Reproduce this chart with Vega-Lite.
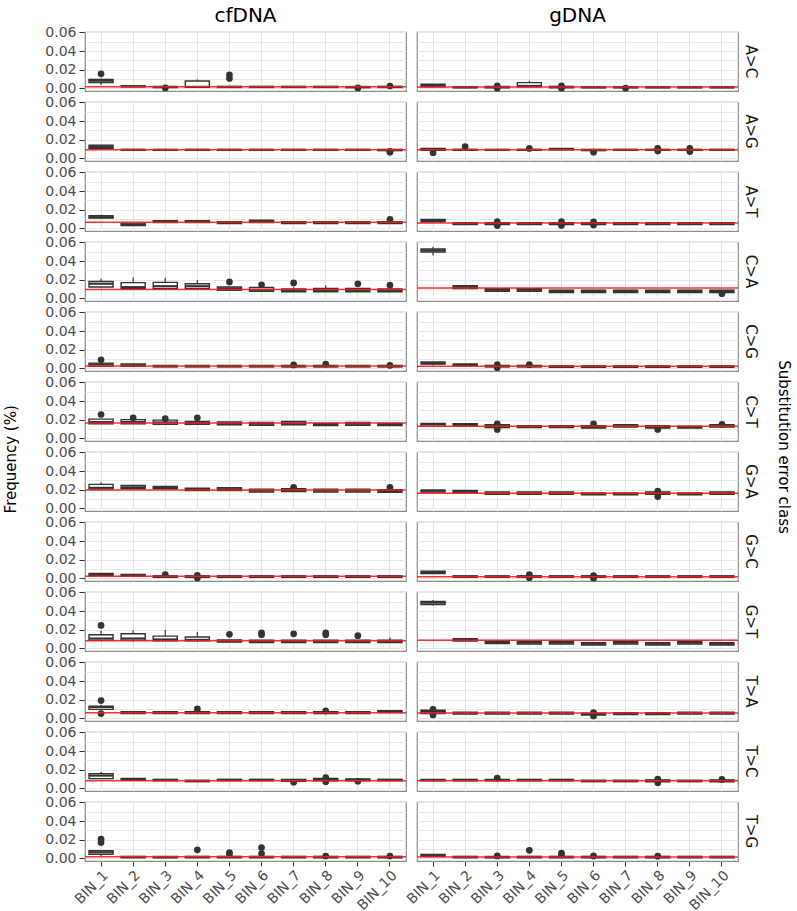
{
"$schema": "https://vega.github.io/schema/vega-lite/v6.json",
"padding": {"left": 3, "top": 6, "right": 2, "bottom": 0},
"bounds": "flush",
"title": {"text": "Frequency (%)", "orient": "left", "anchor": "middle", "fontSize": 15, "fontWeight": "normal", "color": "#000000", "offset": 26, "font": "DejaVu Sans"},
"config": {
  "font": "DejaVu Sans",
  "view": {"stroke": "#8c8c8c", "strokeWidth": 1.2},
  "axis": {"domain": false, "tickColor": "#333333", "labelColor": "#4d4d4d", "titleColor": "#000000", "titleFontWeight": "normal"}
},
"data": {"values": [
{"t":"cfDNA","c":"A>C","b":"BIN_1","q1":0.006,"md":0.008,"q3":0.0095,"lo":0.0035,"hi":0.0105},
{"t":"cfDNA","c":"A>C","b":"BIN_2","q1":0.0015,"md":0.002,"q3":0.0025},
{"t":"cfDNA","c":"A>C","b":"BIN_3","q1":0.0007,"md":0.0012,"q3":0.0018},
{"t":"cfDNA","c":"A>C","b":"BIN_4","q1":0.001,"md":0.0015,"q3":0.0078,"lo":0.001,"hi":0.0095},
{"t":"cfDNA","c":"A>C","b":"BIN_5","q1":0.0008,"md":0.0013,"q3":0.002},
{"t":"cfDNA","c":"A>C","b":"BIN_6","q1":0.0008,"md":0.0013,"q3":0.002},
{"t":"cfDNA","c":"A>C","b":"BIN_7","q1":0.0008,"md":0.0013,"q3":0.002},
{"t":"cfDNA","c":"A>C","b":"BIN_8","q1":0.0008,"md":0.0013,"q3":0.002},
{"t":"cfDNA","c":"A>C","b":"BIN_9","q1":0.0006,"md":0.0012,"q3":0.0018},
{"t":"cfDNA","c":"A>C","b":"BIN_10","q1":0.0008,"md":0.0013,"q3":0.002},
{"t":"cfDNA","c":"A>C","b":"BIN_1","o":0.0155},
{"t":"cfDNA","c":"A>C","b":"BIN_3","o":0.0003},
{"t":"cfDNA","c":"A>C","b":"BIN_5","o":0.0105},
{"t":"cfDNA","c":"A>C","b":"BIN_5","o":0.0145},
{"t":"cfDNA","c":"A>C","b":"BIN_9","o":0.0003},
{"t":"cfDNA","c":"A>C","b":"BIN_10","o":0.0024},
{"t":"cfDNA","c":"A>G","b":"BIN_1","q1":0.0105,"md":0.012,"q3":0.014},
{"t":"cfDNA","c":"A>G","b":"BIN_2","q1":0.0085,"md":0.009,"q3":0.0095},
{"t":"cfDNA","c":"A>G","b":"BIN_3","q1":0.0085,"md":0.009,"q3":0.0095},
{"t":"cfDNA","c":"A>G","b":"BIN_4","q1":0.0085,"md":0.009,"q3":0.0095},
{"t":"cfDNA","c":"A>G","b":"BIN_5","q1":0.0085,"md":0.009,"q3":0.0095},
{"t":"cfDNA","c":"A>G","b":"BIN_6","q1":0.0085,"md":0.009,"q3":0.0095},
{"t":"cfDNA","c":"A>G","b":"BIN_7","q1":0.0085,"md":0.009,"q3":0.0095},
{"t":"cfDNA","c":"A>G","b":"BIN_8","q1":0.0085,"md":0.009,"q3":0.0095},
{"t":"cfDNA","c":"A>G","b":"BIN_9","q1":0.0085,"md":0.009,"q3":0.0095},
{"t":"cfDNA","c":"A>G","b":"BIN_10","q1":0.0082,"md":0.0088,"q3":0.0095},
{"t":"cfDNA","c":"A>G","b":"BIN_10","o":0.0065},
{"t":"cfDNA","c":"A>G","b":"BIN_10","o":0.0075},
{"t":"cfDNA","c":"A>T","b":"BIN_1","q1":0.011,"md":0.012,"q3":0.0135,"lo":0.0105,"hi":0.0145},
{"t":"cfDNA","c":"A>T","b":"BIN_2","q1":0.003,"md":0.004,"q3":0.0055},
{"t":"cfDNA","c":"A>T","b":"BIN_3","q1":0.006,"md":0.007,"q3":0.008},
{"t":"cfDNA","c":"A>T","b":"BIN_4","q1":0.006,"md":0.007,"q3":0.008},
{"t":"cfDNA","c":"A>T","b":"BIN_5","q1":0.005,"md":0.006,"q3":0.007},
{"t":"cfDNA","c":"A>T","b":"BIN_6","q1":0.006,"md":0.007,"q3":0.0085},
{"t":"cfDNA","c":"A>T","b":"BIN_7","q1":0.005,"md":0.006,"q3":0.007},
{"t":"cfDNA","c":"A>T","b":"BIN_8","q1":0.005,"md":0.006,"q3":0.007},
{"t":"cfDNA","c":"A>T","b":"BIN_9","q1":0.005,"md":0.006,"q3":0.007},
{"t":"cfDNA","c":"A>T","b":"BIN_10","q1":0.005,"md":0.006,"q3":0.007},
{"t":"cfDNA","c":"A>T","b":"BIN_10","o":0.0095},
{"t":"cfDNA","c":"C>A","b":"BIN_1","q1":0.012,"md":0.0155,"q3":0.018,"lo":0.011,"hi":0.021},
{"t":"cfDNA","c":"C>A","b":"BIN_2","q1":0.0103,"md":0.012,"q3":0.0168,"lo":0.0103,"hi":0.0222},
{"t":"cfDNA","c":"C>A","b":"BIN_3","q1":0.0105,"md":0.013,"q3":0.017,"lo":0.0105,"hi":0.022},
{"t":"cfDNA","c":"C>A","b":"BIN_4","q1":0.0105,"md":0.013,"q3":0.0155,"lo":0.0105,"hi":0.0195},
{"t":"cfDNA","c":"C>A","b":"BIN_5","q1":0.0085,"md":0.0105,"q3":0.012},
{"t":"cfDNA","c":"C>A","b":"BIN_6","q1":0.0075,"md":0.009,"q3":0.0115},
{"t":"cfDNA","c":"C>A","b":"BIN_7","q1":0.007,"md":0.0085,"q3":0.01,"lo":0.007,"hi":0.012},
{"t":"cfDNA","c":"C>A","b":"BIN_8","q1":0.007,"md":0.0085,"q3":0.0105,"lo":0.007,"hi":0.014},
{"t":"cfDNA","c":"C>A","b":"BIN_9","q1":0.007,"md":0.0085,"q3":0.0105},
{"t":"cfDNA","c":"C>A","b":"BIN_10","q1":0.007,"md":0.0085,"q3":0.01},
{"t":"cfDNA","c":"C>A","b":"BIN_5","o":0.0175},
{"t":"cfDNA","c":"C>A","b":"BIN_6","o":0.0145},
{"t":"cfDNA","c":"C>A","b":"BIN_7","o":0.0165},
{"t":"cfDNA","c":"C>A","b":"BIN_9","o":0.0155},
{"t":"cfDNA","c":"C>A","b":"BIN_10","o":0.014},
{"t":"cfDNA","c":"C>G","b":"BIN_1","q1":0.002,"md":0.004,"q3":0.0055},
{"t":"cfDNA","c":"C>G","b":"BIN_2","q1":0.002,"md":0.003,"q3":0.0045},
{"t":"cfDNA","c":"C>G","b":"BIN_3","q1":0.0015,"md":0.002,"q3":0.003},
{"t":"cfDNA","c":"C>G","b":"BIN_4","q1":0.0015,"md":0.002,"q3":0.003},
{"t":"cfDNA","c":"C>G","b":"BIN_5","q1":0.0015,"md":0.002,"q3":0.003},
{"t":"cfDNA","c":"C>G","b":"BIN_6","q1":0.0015,"md":0.002,"q3":0.003},
{"t":"cfDNA","c":"C>G","b":"BIN_7","q1":0.0015,"md":0.002,"q3":0.003},
{"t":"cfDNA","c":"C>G","b":"BIN_8","q1":0.0015,"md":0.002,"q3":0.003},
{"t":"cfDNA","c":"C>G","b":"BIN_9","q1":0.0015,"md":0.002,"q3":0.003},
{"t":"cfDNA","c":"C>G","b":"BIN_10","q1":0.0015,"md":0.002,"q3":0.003},
{"t":"cfDNA","c":"C>G","b":"BIN_1","o":0.009},
{"t":"cfDNA","c":"C>G","b":"BIN_7","o":0.0035},
{"t":"cfDNA","c":"C>G","b":"BIN_8","o":0.0045},
{"t":"cfDNA","c":"C>G","b":"BIN_10","o":0.003},
{"t":"cfDNA","c":"C>T","b":"BIN_1","q1":0.0155,"md":0.0175,"q3":0.0205},
{"t":"cfDNA","c":"C>T","b":"BIN_2","q1":0.0155,"md":0.0175,"q3":0.02},
{"t":"cfDNA","c":"C>T","b":"BIN_3","q1":0.015,"md":0.017,"q3":0.0195},
{"t":"cfDNA","c":"C>T","b":"BIN_4","q1":0.015,"md":0.0165,"q3":0.018},
{"t":"cfDNA","c":"C>T","b":"BIN_5","q1":0.0145,"md":0.016,"q3":0.0175},
{"t":"cfDNA","c":"C>T","b":"BIN_6","q1":0.014,"md":0.0155,"q3":0.017},
{"t":"cfDNA","c":"C>T","b":"BIN_7","q1":0.0145,"md":0.016,"q3":0.018},
{"t":"cfDNA","c":"C>T","b":"BIN_8","q1":0.0135,"md":0.015,"q3":0.016},
{"t":"cfDNA","c":"C>T","b":"BIN_9","q1":0.014,"md":0.0155,"q3":0.017},
{"t":"cfDNA","c":"C>T","b":"BIN_10","q1":0.0135,"md":0.015,"q3":0.016},
{"t":"cfDNA","c":"C>T","b":"BIN_1","o":0.0255},
{"t":"cfDNA","c":"C>T","b":"BIN_2","o":0.022},
{"t":"cfDNA","c":"C>T","b":"BIN_3","o":0.021},
{"t":"cfDNA","c":"C>T","b":"BIN_4","o":0.022},
{"t":"cfDNA","c":"G>A","b":"BIN_1","q1":0.0205,"md":0.022,"q3":0.0257,"lo":0.0205,"hi":0.028},
{"t":"cfDNA","c":"G>A","b":"BIN_2","q1":0.021,"md":0.0225,"q3":0.0245},
{"t":"cfDNA","c":"G>A","b":"BIN_3","q1":0.021,"md":0.022,"q3":0.0235},
{"t":"cfDNA","c":"G>A","b":"BIN_4","q1":0.019,"md":0.0205,"q3":0.0215},
{"t":"cfDNA","c":"G>A","b":"BIN_5","q1":0.019,"md":0.0205,"q3":0.022},
{"t":"cfDNA","c":"G>A","b":"BIN_6","q1":0.0175,"md":0.019,"q3":0.0205},
{"t":"cfDNA","c":"G>A","b":"BIN_7","q1":0.018,"md":0.0195,"q3":0.021},
{"t":"cfDNA","c":"G>A","b":"BIN_8","q1":0.0175,"md":0.019,"q3":0.0205},
{"t":"cfDNA","c":"G>A","b":"BIN_9","q1":0.0175,"md":0.019,"q3":0.0205},
{"t":"cfDNA","c":"G>A","b":"BIN_10","q1":0.017,"md":0.0185,"q3":0.02},
{"t":"cfDNA","c":"G>A","b":"BIN_7","o":0.0225},
{"t":"cfDNA","c":"G>A","b":"BIN_10","o":0.0225},
{"t":"cfDNA","c":"G>C","b":"BIN_1","q1":0.003,"md":0.004,"q3":0.005},
{"t":"cfDNA","c":"G>C","b":"BIN_2","q1":0.002,"md":0.003,"q3":0.004},
{"t":"cfDNA","c":"G>C","b":"BIN_3","q1":0.001,"md":0.0018,"q3":0.0025},
{"t":"cfDNA","c":"G>C","b":"BIN_4","q1":0.001,"md":0.0018,"q3":0.0025},
{"t":"cfDNA","c":"G>C","b":"BIN_5","q1":0.001,"md":0.0018,"q3":0.0025},
{"t":"cfDNA","c":"G>C","b":"BIN_6","q1":0.001,"md":0.0018,"q3":0.0025},
{"t":"cfDNA","c":"G>C","b":"BIN_7","q1":0.001,"md":0.0018,"q3":0.0025},
{"t":"cfDNA","c":"G>C","b":"BIN_8","q1":0.001,"md":0.0018,"q3":0.0025},
{"t":"cfDNA","c":"G>C","b":"BIN_9","q1":0.001,"md":0.0018,"q3":0.0025},
{"t":"cfDNA","c":"G>C","b":"BIN_10","q1":0.001,"md":0.0018,"q3":0.0025},
{"t":"cfDNA","c":"G>C","b":"BIN_3","o":0.004},
{"t":"cfDNA","c":"G>C","b":"BIN_4","o":0.003},
{"t":"cfDNA","c":"G>C","b":"BIN_4","o":0.0002},
{"t":"cfDNA","c":"G>T","b":"BIN_1","q1":0.0085,"md":0.0105,"q3":0.0145,"lo":0.0085,"hi":0.019},
{"t":"cfDNA","c":"G>T","b":"BIN_2","q1":0.0085,"md":0.0105,"q3":0.0155,"lo":0.007,"hi":0.019},
{"t":"cfDNA","c":"G>T","b":"BIN_3","q1":0.008,"md":0.0095,"q3":0.013,"lo":0.008,"hi":0.0195},
{"t":"cfDNA","c":"G>T","b":"BIN_4","q1":0.008,"md":0.009,"q3":0.012,"lo":0.007,"hi":0.0175},
{"t":"cfDNA","c":"G>T","b":"BIN_5","q1":0.0065,"md":0.0075,"q3":0.009},
{"t":"cfDNA","c":"G>T","b":"BIN_6","q1":0.006,"md":0.007,"q3":0.0085},
{"t":"cfDNA","c":"G>T","b":"BIN_7","q1":0.006,"md":0.007,"q3":0.0085},
{"t":"cfDNA","c":"G>T","b":"BIN_8","q1":0.006,"md":0.007,"q3":0.0085},
{"t":"cfDNA","c":"G>T","b":"BIN_9","q1":0.006,"md":0.007,"q3":0.0085},
{"t":"cfDNA","c":"G>T","b":"BIN_10","q1":0.006,"md":0.007,"q3":0.0085,"lo":0.006,"hi":0.0115},
{"t":"cfDNA","c":"G>T","b":"BIN_1","o":0.0245},
{"t":"cfDNA","c":"G>T","b":"BIN_5","o":0.015},
{"t":"cfDNA","c":"G>T","b":"BIN_6","o":0.0145},
{"t":"cfDNA","c":"G>T","b":"BIN_6","o":0.0165},
{"t":"cfDNA","c":"G>T","b":"BIN_7","o":0.0155},
{"t":"cfDNA","c":"G>T","b":"BIN_8","o":0.0145},
{"t":"cfDNA","c":"G>T","b":"BIN_8","o":0.0165},
{"t":"cfDNA","c":"G>T","b":"BIN_9","o":0.0135},
{"t":"cfDNA","c":"T>A","b":"BIN_1","q1":0.0095,"md":0.012,"q3":0.013,"lo":0.0085,"hi":0.0145},
{"t":"cfDNA","c":"T>A","b":"BIN_2","q1":0.005,"md":0.006,"q3":0.007},
{"t":"cfDNA","c":"T>A","b":"BIN_3","q1":0.005,"md":0.006,"q3":0.007},
{"t":"cfDNA","c":"T>A","b":"BIN_4","q1":0.005,"md":0.006,"q3":0.007},
{"t":"cfDNA","c":"T>A","b":"BIN_5","q1":0.005,"md":0.006,"q3":0.007},
{"t":"cfDNA","c":"T>A","b":"BIN_6","q1":0.005,"md":0.006,"q3":0.007},
{"t":"cfDNA","c":"T>A","b":"BIN_7","q1":0.005,"md":0.006,"q3":0.007},
{"t":"cfDNA","c":"T>A","b":"BIN_8","q1":0.005,"md":0.006,"q3":0.007,"lo":0.004,"hi":0.007},
{"t":"cfDNA","c":"T>A","b":"BIN_9","q1":0.005,"md":0.006,"q3":0.007},
{"t":"cfDNA","c":"T>A","b":"BIN_10","q1":0.0062,"md":0.007,"q3":0.008},
{"t":"cfDNA","c":"T>A","b":"BIN_1","o":0.019},
{"t":"cfDNA","c":"T>A","b":"BIN_1","o":0.005},
{"t":"cfDNA","c":"T>A","b":"BIN_4","o":0.01},
{"t":"cfDNA","c":"T>A","b":"BIN_8","o":0.008},
{"t":"cfDNA","c":"T>C","b":"BIN_1","q1":0.0103,"md":0.0135,"q3":0.0155,"lo":0.0103,"hi":0.0175},
{"t":"cfDNA","c":"T>C","b":"BIN_2","q1":0.0085,"md":0.0095,"q3":0.0105},
{"t":"cfDNA","c":"T>C","b":"BIN_3","q1":0.008,"md":0.009,"q3":0.0095},
{"t":"cfDNA","c":"T>C","b":"BIN_4","q1":0.007,"md":0.0078,"q3":0.0085},
{"t":"cfDNA","c":"T>C","b":"BIN_5","q1":0.008,"md":0.009,"q3":0.0095},
{"t":"cfDNA","c":"T>C","b":"BIN_6","q1":0.008,"md":0.009,"q3":0.0095},
{"t":"cfDNA","c":"T>C","b":"BIN_7","q1":0.0075,"md":0.0085,"q3":0.0095},
{"t":"cfDNA","c":"T>C","b":"BIN_8","q1":0.008,"md":0.009,"q3":0.0105},
{"t":"cfDNA","c":"T>C","b":"BIN_9","q1":0.008,"md":0.009,"q3":0.01},
{"t":"cfDNA","c":"T>C","b":"BIN_10","q1":0.008,"md":0.009,"q3":0.0095},
{"t":"cfDNA","c":"T>C","b":"BIN_7","o":0.0065},
{"t":"cfDNA","c":"T>C","b":"BIN_8","o":0.0115},
{"t":"cfDNA","c":"T>C","b":"BIN_8","o":0.007},
{"t":"cfDNA","c":"T>C","b":"BIN_9","o":0.0075},
{"t":"cfDNA","c":"T>G","b":"BIN_1","q1":0.0042,"md":0.0065,"q3":0.0082,"lo":0.002,"hi":0.0082},
{"t":"cfDNA","c":"T>G","b":"BIN_2","q1":0.0005,"md":0.0012,"q3":0.002},
{"t":"cfDNA","c":"T>G","b":"BIN_3","q1":0.0005,"md":0.0012,"q3":0.002},
{"t":"cfDNA","c":"T>G","b":"BIN_4","q1":0.0005,"md":0.0012,"q3":0.002},
{"t":"cfDNA","c":"T>G","b":"BIN_5","q1":0.0005,"md":0.0012,"q3":0.002},
{"t":"cfDNA","c":"T>G","b":"BIN_6","q1":0.0005,"md":0.0012,"q3":0.002},
{"t":"cfDNA","c":"T>G","b":"BIN_7","q1":0.0005,"md":0.0012,"q3":0.002},
{"t":"cfDNA","c":"T>G","b":"BIN_8","q1":0.0005,"md":0.0012,"q3":0.002},
{"t":"cfDNA","c":"T>G","b":"BIN_9","q1":0.0005,"md":0.0012,"q3":0.002},
{"t":"cfDNA","c":"T>G","b":"BIN_10","q1":0.0005,"md":0.0012,"q3":0.002},
{"t":"cfDNA","c":"T>G","b":"BIN_1","o":0.017},
{"t":"cfDNA","c":"T>G","b":"BIN_1","o":0.0205},
{"t":"cfDNA","c":"T>G","b":"BIN_4","o":0.009},
{"t":"cfDNA","c":"T>G","b":"BIN_5","o":0.006},
{"t":"cfDNA","c":"T>G","b":"BIN_5","o":0.0045},
{"t":"cfDNA","c":"T>G","b":"BIN_6","o":0.0115},
{"t":"cfDNA","c":"T>G","b":"BIN_6","o":0.005},
{"t":"cfDNA","c":"T>G","b":"BIN_8","o":0.0024},
{"t":"cfDNA","c":"T>G","b":"BIN_10","o":0.0024},
{"t":"gDNA","c":"A>C","b":"BIN_1","q1":0.0015,"md":0.003,"q3":0.0042},
{"t":"gDNA","c":"A>C","b":"BIN_2","q1":0.0005,"md":0.001,"q3":0.0015},
{"t":"gDNA","c":"A>C","b":"BIN_3","q1":0.0005,"md":0.0012,"q3":0.0018},
{"t":"gDNA","c":"A>C","b":"BIN_4","q1":0.0015,"md":0.0025,"q3":0.006,"lo":0.0015,"hi":0.008},
{"t":"gDNA","c":"A>C","b":"BIN_5","q1":0.0005,"md":0.0012,"q3":0.002},
{"t":"gDNA","c":"A>C","b":"BIN_6","q1":0.0005,"md":0.001,"q3":0.0015},
{"t":"gDNA","c":"A>C","b":"BIN_7","q1":0.0005,"md":0.001,"q3":0.0015},
{"t":"gDNA","c":"A>C","b":"BIN_8","q1":0.0005,"md":0.001,"q3":0.0015},
{"t":"gDNA","c":"A>C","b":"BIN_9","q1":0.0005,"md":0.001,"q3":0.0015},
{"t":"gDNA","c":"A>C","b":"BIN_10","q1":0.0005,"md":0.001,"q3":0.0015},
{"t":"gDNA","c":"A>C","b":"BIN_3","o":0.0025},
{"t":"gDNA","c":"A>C","b":"BIN_3","o":0.0},
{"t":"gDNA","c":"A>C","b":"BIN_5","o":0.0025},
{"t":"gDNA","c":"A>C","b":"BIN_5","o":0.0},
{"t":"gDNA","c":"A>C","b":"BIN_7","o":0.0},
{"t":"gDNA","c":"A>G","b":"BIN_1","q1":0.0085,"md":0.0095,"q3":0.0105},
{"t":"gDNA","c":"A>G","b":"BIN_2","q1":0.0085,"md":0.009,"q3":0.0095},
{"t":"gDNA","c":"A>G","b":"BIN_3","q1":0.0085,"md":0.009,"q3":0.0095},
{"t":"gDNA","c":"A>G","b":"BIN_4","q1":0.0085,"md":0.009,"q3":0.0095},
{"t":"gDNA","c":"A>G","b":"BIN_5","q1":0.009,"md":0.0098,"q3":0.0105},
{"t":"gDNA","c":"A>G","b":"BIN_6","q1":0.0082,"md":0.0088,"q3":0.0095},
{"t":"gDNA","c":"A>G","b":"BIN_7","q1":0.0085,"md":0.009,"q3":0.0095},
{"t":"gDNA","c":"A>G","b":"BIN_8","q1":0.0085,"md":0.009,"q3":0.0095},
{"t":"gDNA","c":"A>G","b":"BIN_9","q1":0.0085,"md":0.009,"q3":0.0095},
{"t":"gDNA","c":"A>G","b":"BIN_10","q1":0.0085,"md":0.009,"q3":0.0095},
{"t":"gDNA","c":"A>G","b":"BIN_1","o":0.006},
{"t":"gDNA","c":"A>G","b":"BIN_2","o":0.0125},
{"t":"gDNA","c":"A>G","b":"BIN_4","o":0.0105},
{"t":"gDNA","c":"A>G","b":"BIN_6","o":0.0065},
{"t":"gDNA","c":"A>G","b":"BIN_8","o":0.0105},
{"t":"gDNA","c":"A>G","b":"BIN_8","o":0.0078},
{"t":"gDNA","c":"A>G","b":"BIN_9","o":0.0105},
{"t":"gDNA","c":"A>G","b":"BIN_9","o":0.0072},
{"t":"gDNA","c":"A>T","b":"BIN_1","q1":0.007,"md":0.008,"q3":0.0095},
{"t":"gDNA","c":"A>T","b":"BIN_2","q1":0.004,"md":0.005,"q3":0.006},
{"t":"gDNA","c":"A>T","b":"BIN_3","q1":0.004,"md":0.005,"q3":0.006},
{"t":"gDNA","c":"A>T","b":"BIN_4","q1":0.004,"md":0.005,"q3":0.006},
{"t":"gDNA","c":"A>T","b":"BIN_5","q1":0.004,"md":0.005,"q3":0.006},
{"t":"gDNA","c":"A>T","b":"BIN_6","q1":0.004,"md":0.005,"q3":0.006},
{"t":"gDNA","c":"A>T","b":"BIN_7","q1":0.004,"md":0.005,"q3":0.006},
{"t":"gDNA","c":"A>T","b":"BIN_8","q1":0.004,"md":0.005,"q3":0.006},
{"t":"gDNA","c":"A>T","b":"BIN_9","q1":0.004,"md":0.005,"q3":0.006},
{"t":"gDNA","c":"A>T","b":"BIN_10","q1":0.004,"md":0.005,"q3":0.006},
{"t":"gDNA","c":"A>T","b":"BIN_3","o":0.0072},
{"t":"gDNA","c":"A>T","b":"BIN_3","o":0.0028},
{"t":"gDNA","c":"A>T","b":"BIN_5","o":0.007},
{"t":"gDNA","c":"A>T","b":"BIN_5","o":0.003},
{"t":"gDNA","c":"A>T","b":"BIN_6","o":0.0068},
{"t":"gDNA","c":"A>T","b":"BIN_6","o":0.0035},
{"t":"gDNA","c":"C>A","b":"BIN_1","q1":0.0497,"md":0.0515,"q3":0.053,"lo":0.046,"hi":0.0555},
{"t":"gDNA","c":"C>A","b":"BIN_2","q1":0.0103,"md":0.012,"q3":0.0134},
{"t":"gDNA","c":"C>A","b":"BIN_3","q1":0.0075,"md":0.009,"q3":0.0103},
{"t":"gDNA","c":"C>A","b":"BIN_4","q1":0.0075,"md":0.009,"q3":0.0103},
{"t":"gDNA","c":"C>A","b":"BIN_5","q1":0.006,"md":0.0072,"q3":0.0085},
{"t":"gDNA","c":"C>A","b":"BIN_6","q1":0.006,"md":0.0072,"q3":0.0085},
{"t":"gDNA","c":"C>A","b":"BIN_7","q1":0.006,"md":0.0072,"q3":0.0085},
{"t":"gDNA","c":"C>A","b":"BIN_8","q1":0.006,"md":0.0072,"q3":0.0085},
{"t":"gDNA","c":"C>A","b":"BIN_9","q1":0.006,"md":0.0072,"q3":0.0085},
{"t":"gDNA","c":"C>A","b":"BIN_10","q1":0.006,"md":0.0072,"q3":0.0085},
{"t":"gDNA","c":"C>A","b":"BIN_10","o":0.0048},
{"t":"gDNA","c":"C>G","b":"BIN_1","q1":0.0044,"md":0.0055,"q3":0.0068,"lo":0.003,"hi":0.0068},
{"t":"gDNA","c":"C>G","b":"BIN_2","q1":0.003,"md":0.0038,"q3":0.0045},
{"t":"gDNA","c":"C>G","b":"BIN_3","q1":0.0015,"md":0.002,"q3":0.003},
{"t":"gDNA","c":"C>G","b":"BIN_4","q1":0.0015,"md":0.002,"q3":0.003},
{"t":"gDNA","c":"C>G","b":"BIN_5","q1":0.001,"md":0.0018,"q3":0.0025},
{"t":"gDNA","c":"C>G","b":"BIN_6","q1":0.001,"md":0.0018,"q3":0.0025},
{"t":"gDNA","c":"C>G","b":"BIN_7","q1":0.001,"md":0.0018,"q3":0.0025},
{"t":"gDNA","c":"C>G","b":"BIN_8","q1":0.001,"md":0.0018,"q3":0.0025},
{"t":"gDNA","c":"C>G","b":"BIN_9","q1":0.001,"md":0.0018,"q3":0.0025},
{"t":"gDNA","c":"C>G","b":"BIN_10","q1":0.001,"md":0.0018,"q3":0.0025},
{"t":"gDNA","c":"C>G","b":"BIN_3","o":0.0038},
{"t":"gDNA","c":"C>G","b":"BIN_3","o":0.0005},
{"t":"gDNA","c":"C>G","b":"BIN_4","o":0.0038},
{"t":"gDNA","c":"C>T","b":"BIN_1","q1":0.013,"md":0.015,"q3":0.016},
{"t":"gDNA","c":"C>T","b":"BIN_2","q1":0.0135,"md":0.0145,"q3":0.0155},
{"t":"gDNA","c":"C>T","b":"BIN_3","q1":0.0115,"md":0.013,"q3":0.0145},
{"t":"gDNA","c":"C>T","b":"BIN_4","q1":0.0115,"md":0.0125,"q3":0.0135},
{"t":"gDNA","c":"C>T","b":"BIN_5","q1":0.0115,"md":0.0125,"q3":0.0135},
{"t":"gDNA","c":"C>T","b":"BIN_6","q1":0.011,"md":0.012,"q3":0.0135},
{"t":"gDNA","c":"C>T","b":"BIN_7","q1":0.012,"md":0.013,"q3":0.0145},
{"t":"gDNA","c":"C>T","b":"BIN_8","q1":0.011,"md":0.012,"q3":0.0135},
{"t":"gDNA","c":"C>T","b":"BIN_9","q1":0.011,"md":0.012,"q3":0.013},
{"t":"gDNA","c":"C>T","b":"BIN_10","q1":0.012,"md":0.013,"q3":0.0145},
{"t":"gDNA","c":"C>T","b":"BIN_3","o":0.0155},
{"t":"gDNA","c":"C>T","b":"BIN_3","o":0.0095},
{"t":"gDNA","c":"C>T","b":"BIN_6","o":0.0155},
{"t":"gDNA","c":"C>T","b":"BIN_8","o":0.0095},
{"t":"gDNA","c":"C>T","b":"BIN_10","o":0.015},
{"t":"gDNA","c":"G>A","b":"BIN_1","q1":0.0175,"md":0.019,"q3":0.0195},
{"t":"gDNA","c":"G>A","b":"BIN_2","q1":0.0165,"md":0.018,"q3":0.019},
{"t":"gDNA","c":"G>A","b":"BIN_3","q1":0.015,"md":0.016,"q3":0.0175},
{"t":"gDNA","c":"G>A","b":"BIN_4","q1":0.015,"md":0.016,"q3":0.0175},
{"t":"gDNA","c":"G>A","b":"BIN_5","q1":0.015,"md":0.016,"q3":0.0175},
{"t":"gDNA","c":"G>A","b":"BIN_6","q1":0.0145,"md":0.0155,"q3":0.0165},
{"t":"gDNA","c":"G>A","b":"BIN_7","q1":0.0145,"md":0.0155,"q3":0.0165},
{"t":"gDNA","c":"G>A","b":"BIN_8","q1":0.015,"md":0.016,"q3":0.0175},
{"t":"gDNA","c":"G>A","b":"BIN_9","q1":0.0145,"md":0.0155,"q3":0.0165},
{"t":"gDNA","c":"G>A","b":"BIN_10","q1":0.015,"md":0.016,"q3":0.0175},
{"t":"gDNA","c":"G>A","b":"BIN_8","o":0.0185},
{"t":"gDNA","c":"G>A","b":"BIN_8","o":0.0125},
{"t":"gDNA","c":"G>C","b":"BIN_1","q1":0.005,"md":0.0065,"q3":0.0075},
{"t":"gDNA","c":"G>C","b":"BIN_2","q1":0.001,"md":0.0018,"q3":0.0025},
{"t":"gDNA","c":"G>C","b":"BIN_3","q1":0.001,"md":0.0018,"q3":0.0025},
{"t":"gDNA","c":"G>C","b":"BIN_4","q1":0.001,"md":0.0018,"q3":0.0025},
{"t":"gDNA","c":"G>C","b":"BIN_5","q1":0.001,"md":0.0018,"q3":0.0025},
{"t":"gDNA","c":"G>C","b":"BIN_6","q1":0.001,"md":0.0018,"q3":0.0025},
{"t":"gDNA","c":"G>C","b":"BIN_7","q1":0.001,"md":0.0018,"q3":0.0025},
{"t":"gDNA","c":"G>C","b":"BIN_8","q1":0.001,"md":0.0018,"q3":0.0025},
{"t":"gDNA","c":"G>C","b":"BIN_9","q1":0.001,"md":0.0018,"q3":0.0025},
{"t":"gDNA","c":"G>C","b":"BIN_10","q1":0.001,"md":0.0018,"q3":0.0025},
{"t":"gDNA","c":"G>C","b":"BIN_4","o":0.0038},
{"t":"gDNA","c":"G>C","b":"BIN_4","o":0.0005},
{"t":"gDNA","c":"G>C","b":"BIN_6","o":0.0028},
{"t":"gDNA","c":"G>C","b":"BIN_6","o":0.0},
{"t":"gDNA","c":"G>T","b":"BIN_1","q1":0.047,"md":0.049,"q3":0.0504,"lo":0.046,"hi":0.052},
{"t":"gDNA","c":"G>T","b":"BIN_2","q1":0.0078,"md":0.009,"q3":0.0103},
{"t":"gDNA","c":"G>T","b":"BIN_3","q1":0.005,"md":0.0065,"q3":0.0075},
{"t":"gDNA","c":"G>T","b":"BIN_4","q1":0.0045,"md":0.006,"q3":0.0075},
{"t":"gDNA","c":"G>T","b":"BIN_5","q1":0.0045,"md":0.006,"q3":0.0075},
{"t":"gDNA","c":"G>T","b":"BIN_6","q1":0.0035,"md":0.0048,"q3":0.006},
{"t":"gDNA","c":"G>T","b":"BIN_7","q1":0.0045,"md":0.006,"q3":0.0075},
{"t":"gDNA","c":"G>T","b":"BIN_8","q1":0.0035,"md":0.0048,"q3":0.006},
{"t":"gDNA","c":"G>T","b":"BIN_9","q1":0.0045,"md":0.006,"q3":0.0075},
{"t":"gDNA","c":"G>T","b":"BIN_10","q1":0.0035,"md":0.0048,"q3":0.006},
{"t":"gDNA","c":"T>A","b":"BIN_1","q1":0.0051,"md":0.007,"q3":0.0085},
{"t":"gDNA","c":"T>A","b":"BIN_2","q1":0.0045,"md":0.0055,"q3":0.0065},
{"t":"gDNA","c":"T>A","b":"BIN_3","q1":0.0045,"md":0.0055,"q3":0.0065},
{"t":"gDNA","c":"T>A","b":"BIN_4","q1":0.0045,"md":0.0055,"q3":0.0065},
{"t":"gDNA","c":"T>A","b":"BIN_5","q1":0.0045,"md":0.0055,"q3":0.0065},
{"t":"gDNA","c":"T>A","b":"BIN_6","q1":0.0035,"md":0.0045,"q3":0.0055},
{"t":"gDNA","c":"T>A","b":"BIN_7","q1":0.004,"md":0.005,"q3":0.006},
{"t":"gDNA","c":"T>A","b":"BIN_8","q1":0.004,"md":0.005,"q3":0.006},
{"t":"gDNA","c":"T>A","b":"BIN_9","q1":0.0045,"md":0.0055,"q3":0.0065},
{"t":"gDNA","c":"T>A","b":"BIN_10","q1":0.0045,"md":0.0055,"q3":0.0065},
{"t":"gDNA","c":"T>A","b":"BIN_1","o":0.0095},
{"t":"gDNA","c":"T>A","b":"BIN_1","o":0.0035},
{"t":"gDNA","c":"T>A","b":"BIN_6","o":0.0025},
{"t":"gDNA","c":"T>A","b":"BIN_6","o":0.006},
{"t":"gDNA","c":"T>C","b":"BIN_1","q1":0.008,"md":0.0088,"q3":0.0095},
{"t":"gDNA","c":"T>C","b":"BIN_2","q1":0.008,"md":0.0088,"q3":0.0095},
{"t":"gDNA","c":"T>C","b":"BIN_3","q1":0.008,"md":0.0088,"q3":0.0095},
{"t":"gDNA","c":"T>C","b":"BIN_4","q1":0.008,"md":0.0088,"q3":0.0095},
{"t":"gDNA","c":"T>C","b":"BIN_5","q1":0.008,"md":0.0088,"q3":0.0095},
{"t":"gDNA","c":"T>C","b":"BIN_6","q1":0.007,"md":0.0078,"q3":0.0085},
{"t":"gDNA","c":"T>C","b":"BIN_7","q1":0.007,"md":0.0078,"q3":0.0085},
{"t":"gDNA","c":"T>C","b":"BIN_8","q1":0.007,"md":0.008,"q3":0.009},
{"t":"gDNA","c":"T>C","b":"BIN_9","q1":0.007,"md":0.0078,"q3":0.0085},
{"t":"gDNA","c":"T>C","b":"BIN_10","q1":0.007,"md":0.008,"q3":0.009},
{"t":"gDNA","c":"T>C","b":"BIN_3","o":0.0108},
{"t":"gDNA","c":"T>C","b":"BIN_8","o":0.0098},
{"t":"gDNA","c":"T>C","b":"BIN_8","o":0.006},
{"t":"gDNA","c":"T>C","b":"BIN_10","o":0.0095},
{"t":"gDNA","c":"T>G","b":"BIN_1","q1":0.002,"md":0.0035,"q3":0.0041},
{"t":"gDNA","c":"T>G","b":"BIN_2","q1":0.0005,"md":0.0012,"q3":0.002},
{"t":"gDNA","c":"T>G","b":"BIN_3","q1":0.0005,"md":0.0012,"q3":0.002},
{"t":"gDNA","c":"T>G","b":"BIN_4","q1":0.0005,"md":0.0012,"q3":0.002},
{"t":"gDNA","c":"T>G","b":"BIN_5","q1":0.0005,"md":0.0012,"q3":0.002},
{"t":"gDNA","c":"T>G","b":"BIN_6","q1":0.0005,"md":0.0012,"q3":0.002},
{"t":"gDNA","c":"T>G","b":"BIN_7","q1":0.0005,"md":0.0012,"q3":0.002},
{"t":"gDNA","c":"T>G","b":"BIN_8","q1":0.0005,"md":0.0012,"q3":0.002},
{"t":"gDNA","c":"T>G","b":"BIN_9","q1":0.0005,"md":0.0012,"q3":0.002},
{"t":"gDNA","c":"T>G","b":"BIN_10","q1":0.0005,"md":0.0012,"q3":0.002},
{"t":"gDNA","c":"T>G","b":"BIN_3","o":0.0025},
{"t":"gDNA","c":"T>G","b":"BIN_4","o":0.0085},
{"t":"gDNA","c":"T>G","b":"BIN_5","o":0.0055},
{"t":"gDNA","c":"T>G","b":"BIN_5","o":0.004},
{"t":"gDNA","c":"T>G","b":"BIN_6","o":0.0025},
{"t":"gDNA","c":"T>G","b":"BIN_8","o":0.0022},
{"t":"cfDNA","c":"A>C","r":0.0015},
{"t":"cfDNA","c":"A>G","r":0.009},
{"t":"cfDNA","c":"A>T","r":0.0065},
{"t":"cfDNA","c":"C>A","r":0.0095},
{"t":"cfDNA","c":"C>G","r":0.0025},
{"t":"cfDNA","c":"C>T","r":0.0165},
{"t":"cfDNA","c":"G>A","r":0.0195},
{"t":"cfDNA","c":"G>C","r":0.002},
{"t":"cfDNA","c":"G>T","r":0.008},
{"t":"cfDNA","c":"T>A","r":0.006},
{"t":"cfDNA","c":"T>C","r":0.008},
{"t":"cfDNA","c":"T>G","r":0.0015},
{"t":"gDNA","c":"A>C","r":0.0012},
{"t":"gDNA","c":"A>G","r":0.009},
{"t":"gDNA","c":"A>T","r":0.0055},
{"t":"gDNA","c":"C>A","r":0.011},
{"t":"gDNA","c":"C>G","r":0.002},
{"t":"gDNA","c":"C>T","r":0.013},
{"t":"gDNA","c":"G>A","r":0.016},
{"t":"gDNA","c":"G>C","r":0.0017},
{"t":"gDNA","c":"G>T","r":0.0085},
{"t":"gDNA","c":"T>A","r":0.0055},
{"t":"gDNA","c":"T>C","r":0.008},
{"t":"gDNA","c":"T>G","r":0.0014}
]},
"spacing": {"row": 11, "column": 11},
"facet": {
  "column": {"field": "t", "type": "nominal", "title": null,
    "header": {"labelFontSize": 20, "labelColor": "#000000", "labelPadding": 6}},
  "row": {"field": "c", "type": "nominal", "title": "Substitution error class",
    "sort": ["A>C","A>G","A>T","C>A","C>G","C>T","G>A","G>C","G>T","T>A","T>C","T>G"],
    "header": {"labelOrient": "right", "titleOrient": "right", "labelAngle": 90, "titleAngle": 90,
      "labelFontSize": 15, "titleFontSize": 15, "labelPadding": 5, "titlePadding": 8,
      "labelColor": "#1a1a1a", "titleColor": "#000000", "titleFontWeight": "normal"}}
},
"spec": {
  "width": 321,
  "height": 59,
  "layer": [
    {
      "transform": [{"filter": "isValid(datum.lo)"}],
      "mark": {"type": "rule", "color": "#333333", "strokeWidth": 1.2},
      "encoding": {
        "x": {"field": "b", "type": "nominal", "scale": {"domain": ["BIN_1","BIN_2","BIN_3","BIN_4","BIN_5","BIN_6","BIN_7","BIN_8","BIN_9","BIN_10"], "paddingInner": 0.25, "paddingOuter": 0.125},
          "axis": {"title": null, "grid": true, "gridColor": "#e3e3e3", "labelAngle": -45, "labelAlign": "right", "labelFontSize": 14, "tickSize": 5, "labelPadding": 2}},
        "y": {"field": "lo", "type": "quantitative", "title": null, "scale": {"domain": [-0.003, 0.0605], "nice": false, "zero": false},
          "axis": {"values": [0, 0.01, 0.02, 0.03, 0.04, 0.05, 0.06], "labelExpr": "round(datum.value*100) % 2 == 0 ? format(datum.value, '.2f') : ''", "tickOpacity": {"condition": {"test": "round(datum.value*100) % 2 == 1", "value": 0}, "value": 1}, "labelFontSize": 14, "tickSize": 6, "labelPadding": 3, "gridColor": "#e8e8e8"}},
        "y2": {"field": "hi"}
      }
    },
    {
      "transform": [{"filter": "isValid(datum.q1)"}],
      "mark": {"type": "bar", "fill": "#ffffff", "stroke": "#333333", "strokeWidth": 1.4},
      "encoding": {
        "x": {"field": "b", "type": "nominal", "scale": {"domain": ["BIN_1","BIN_2","BIN_3","BIN_4","BIN_5","BIN_6","BIN_7","BIN_8","BIN_9","BIN_10"], "paddingInner": 0.25, "paddingOuter": 0.125},
          "axis": {"title": null, "grid": true, "gridColor": "#e3e3e3", "labelAngle": -45, "labelAlign": "right", "labelFontSize": 14, "tickSize": 5, "labelPadding": 2}},
        "y": {"field": "q1", "type": "quantitative", "title": null, "scale": {"domain": [-0.003, 0.0605], "nice": false, "zero": false},
          "axis": {"values": [0, 0.01, 0.02, 0.03, 0.04, 0.05, 0.06], "labelExpr": "round(datum.value*100) % 2 == 0 ? format(datum.value, '.2f') : ''", "tickOpacity": {"condition": {"test": "round(datum.value*100) % 2 == 1", "value": 0}, "value": 1}, "labelFontSize": 14, "tickSize": 6, "labelPadding": 3, "gridColor": "#e8e8e8"}},
        "y2": {"field": "q3"}
      }
    },
    {
      "transform": [{"filter": "isValid(datum.md)"}],
      "mark": {"type": "tick", "color": "#333333", "thickness": 2, "size": 24, "opacity": 1},
      "encoding": {
        "x": {"field": "b", "type": "nominal", "scale": {"domain": ["BIN_1","BIN_2","BIN_3","BIN_4","BIN_5","BIN_6","BIN_7","BIN_8","BIN_9","BIN_10"], "paddingInner": 0.25, "paddingOuter": 0.125},
          "axis": {"title": null, "grid": true, "gridColor": "#e3e3e3", "labelAngle": -45, "labelAlign": "right", "labelFontSize": 14, "tickSize": 5, "labelPadding": 2}},
        "y": {"field": "md", "type": "quantitative", "title": null, "scale": {"domain": [-0.003, 0.0605], "nice": false, "zero": false},
          "axis": {"values": [0, 0.01, 0.02, 0.03, 0.04, 0.05, 0.06], "labelExpr": "round(datum.value*100) % 2 == 0 ? format(datum.value, '.2f') : ''", "tickOpacity": {"condition": {"test": "round(datum.value*100) % 2 == 1", "value": 0}, "value": 1}, "labelFontSize": 14, "tickSize": 6, "labelPadding": 3, "gridColor": "#e8e8e8"}}
      }
    },
    {
      "transform": [{"filter": "isValid(datum.o)"}],
      "mark": {"type": "point", "filled": true, "color": "#333333", "size": 45, "opacity": 1},
      "encoding": {
        "x": {"field": "b", "type": "nominal", "scale": {"domain": ["BIN_1","BIN_2","BIN_3","BIN_4","BIN_5","BIN_6","BIN_7","BIN_8","BIN_9","BIN_10"], "paddingInner": 0.25, "paddingOuter": 0.125},
          "axis": {"title": null, "grid": true, "gridColor": "#e3e3e3", "labelAngle": -45, "labelAlign": "right", "labelFontSize": 14, "tickSize": 5, "labelPadding": 2}},
        "y": {"field": "o", "type": "quantitative", "title": null, "scale": {"domain": [-0.003, 0.0605], "nice": false, "zero": false},
          "axis": {"values": [0, 0.01, 0.02, 0.03, 0.04, 0.05, 0.06], "labelExpr": "round(datum.value*100) % 2 == 0 ? format(datum.value, '.2f') : ''", "tickOpacity": {"condition": {"test": "round(datum.value*100) % 2 == 1", "value": 0}, "value": 1}, "labelFontSize": 14, "tickSize": 6, "labelPadding": 3, "gridColor": "#e8e8e8"}}
      }
    },
    {
      "transform": [{"filter": "isValid(datum.r)"}],
      "mark": {"type": "rule", "color": "#ff1a1a", "strokeWidth": 1.5, "opacity": 0.9},
      "encoding": {
        "y": {"field": "r", "type": "quantitative", "title": null, "scale": {"domain": [-0.003, 0.0605], "nice": false, "zero": false},
          "axis": {"values": [0, 0.01, 0.02, 0.03, 0.04, 0.05, 0.06], "labelExpr": "round(datum.value*100) % 2 == 0 ? format(datum.value, '.2f') : ''", "tickOpacity": {"condition": {"test": "round(datum.value*100) % 2 == 1", "value": 0}, "value": 1}, "labelFontSize": 14, "tickSize": 6, "labelPadding": 3, "gridColor": "#e8e8e8"}}
      }
    }
  ]
}
}
